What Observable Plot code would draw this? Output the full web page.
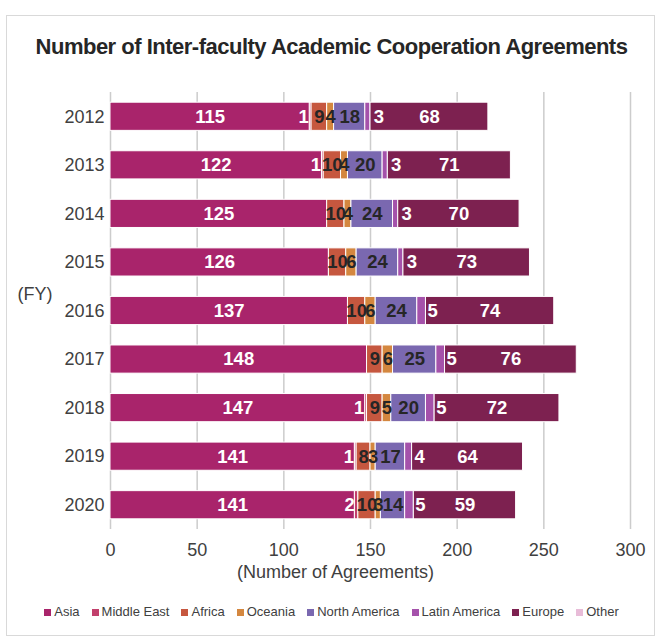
<!DOCTYPE html>
<html><head><meta charset="utf-8">
<script src="https://cdn.jsdelivr.net/npm/d3@7"></script>
<script src="https://cdn.jsdelivr.net/npm/@observablehq/plot@0.6"></script>
<style>
body{margin:0;background:#fff;font-family:"Liberation Sans",Arial,sans-serif;}
#wrap{position:relative;width:661px;height:641px;overflow:hidden;background:#fff}
#frame{position:absolute;left:6px;top:15px;width:649px;height:621px;border:1px solid #d9d9d9;box-sizing:border-box}
#title{position:absolute;left:4px;width:655px;top:34px;text-align:center;font-weight:bold;font-size:22px;letter-spacing:-0.5px;line-height:26px;color:#262626;white-space:nowrap}
#chart{position:absolute;left:0;top:0}
#legend{position:absolute;top:604px;left:4px;width:655px;display:flex;justify-content:center;font-size:13px;line-height:16px;color:#404040}
#legend .item{display:flex;align-items:center;margin:0 6px}
#legend .sw{width:7px;height:7px;margin-right:3px}
</style></head>
<body>
<div id="wrap">
  <div id="frame"></div>
  <div id="title">Number of Inter-faculty Academic Cooperation Agreements</div>
  <div id="chart"></div>
  <div id="legend"></div>
</div>
<script>
const years = ["2012","2013","2014","2015","2016","2017","2018","2019","2020"];
const regions = ["Asia","Middle East","Africa","Oceania","North America","Latin America","Europe","Other"];
const asia = [115,122,125,126,137,148,147,141,141];
const middleEast = [1,1,0,0,0,0,1,1,2];
const africa = [9,10,10,10,10,9,9,8,10];
const oceania = [4,4,4,6,6,6,5,3,3];
const northAmerica = [18,20,24,24,24,25,20,17,14];
const latinAmerica = [3,3,3,3,5,5,5,4,5];
const europe = [68,71,70,73,74,76,72,64,59];
const other = [0,0,0,0,0,0,0,0,0];
const xTicks = [0,50,100,150,200,250,300];

const colors = ["#a9246b","#c2406c","#c6573f","#d4873f","#7a68b0","#a552ab","#7d2150","#e8bcd8"];
const labelFill = ["#ffffff","#ffffff","#262626","#262626","#262626","#ffffff","#ffffff","#262626"];
const labelDx = [0,-7,0,0,0,11,0,0];

const series = [asia, middleEast, africa, oceania, northAmerica, latinAmerica, europe, other];
const data = [];
years.forEach((y, i) => {
  regions.forEach((r, j) => data.push({year: y, region: r, value: series[j][i]}));
});

const labelMarks = regions.map((r, j) =>
  Plot.text(data, Plot.filter(d => d.region === r && d.value > 0,
    Plot.stackX({x: "value", y: "year", z: "region", order: regions, text: "value",
      fill: labelFill[j], dx: labelDx[j], fontWeight: "bold", fontSize: 18.5}))));

const chart = Plot.plot({
  width: 661,
  height: 590,
  marginLeft: 110,
  marginRight: 31,
  marginTop: 92,
  marginBottom: 61,
  style: {fontFamily: "'Liberation Sans', Arial, sans-serif", fontSize: "18px", color: "#404040", background: "transparent"},
  x: {domain: [0, 300], ticks: xTicks},
  y: {domain: years, paddingInner: 0.42, paddingOuter: 0.21, round: false},
  color: {domain: regions, range: colors},
  marks: [
    Plot.gridX(xTicks, {stroke: "#cccccc", strokeOpacity: 1, strokeWidth: 1.5}),
    Plot.barX(data, Plot.stackX({x: "value", y: "year", fill: "region", order: regions, stroke: "white", strokeWidth: 1})),
    ...labelMarks,
    Plot.axisX({ticks: xTicks, tickSize: 0, tickPadding: 14, label: null, fontSize: 18}),
    Plot.axisY({tickSize: 0, tickPadding: 6, label: null, fontSize: 18}),
    Plot.text(["(FY)"], {text: d => d, frameAnchor: "left", dx: -93, dy: -17, textAnchor: "start", fontSize: 18, fill: "#404040"}),
    Plot.text(["(Number of Agreements)"], {text: d => d, frameAnchor: "bottom", dx: -35, dy: 48, fontSize: 18, fill: "#404040"})
  ]
});
document.getElementById("chart").appendChild(chart);

const legend = document.getElementById("legend");
regions.forEach((r, j) => {
  const it = document.createElement("div");
  it.className = "item";
  const sw = document.createElement("span");
  sw.className = "sw";
  sw.style.background = colors[j];
  const t = document.createElement("span");
  t.textContent = r;
  it.appendChild(sw); it.appendChild(t);
  legend.appendChild(it);
});
</script>
</body></html>
